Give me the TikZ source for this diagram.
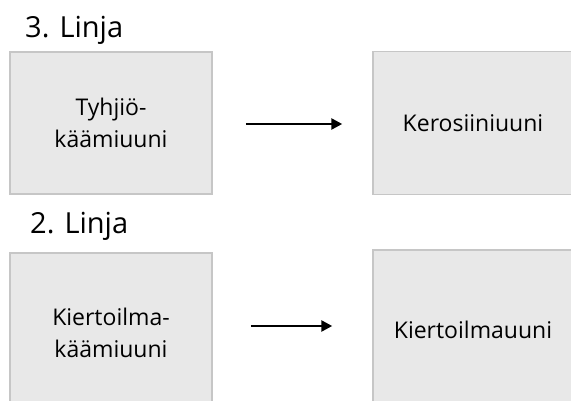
\documentclass[tikz,border=0pt]{standalone}
\usepackage{fontspec}
\setmainfont{Open Sans}
\usepackage{xcolor}
\usetikzlibrary{
  arrows.meta,
  positioning,
  calc
}
\definecolor{boxfill}{HTML}{E8E8E8}
\definecolor{boxline}{HTML}{C6C6C6}

\begin{document}
\begin{tikzpicture}
  [
    x=1pt, y=1pt,
    box/.style={draw=boxline, line width=1.5pt, fill=boxfill, minimum width=202pt,
      align=center, font=\fontsize{23pt}{32pt}\selectfont, inner sep=0pt},
    LT/.style={anchor=base west, inner sep=0pt, font=\fontsize{29pt}{34pt}\selectfont},
    flow/.style={line width=2.6pt, -{Triangle[length=11pt,width=11pt]}},
  ]
  \useasboundingbox (0,0) rectangle (571,400);
  \clip (0,0) rectangle (571,400);
  % 3. linja
  \node [LT] (line3) at (25,362) {3. Linja};
  \node [box, minimum height=142pt] (tyhjio) at (111,277) {Tyhjiö-\\käämiuuni};
  \node [box, minimum width=200pt, minimum height=143pt] (kero) at (473,277) {Kerosiiniuuni};
  \draw [flow, shorten <=33pt, shorten >=30pt] ([yshift=-1pt]tyhjio.east) -- ([yshift=-1pt]tyhjio.east -| kero.west);
  % 2. linja
  \node [LT] (line2) at (30,167) {2. Linja};
  \node [box, minimum height=160pt] (kaami) at (111,67) {Kiertoilma-\\käämiuuni};
  \node [box, minimum width=200pt, minimum height=160pt] (kier) at (473,70) {Kiertoilmauuni};
  \draw [flow, shorten <=38pt, shorten >=40pt] ([yshift=7pt]kaami.east) -- ([yshift=7pt]kaami.east -| kier.west);
\end{tikzpicture}
\end{document}
